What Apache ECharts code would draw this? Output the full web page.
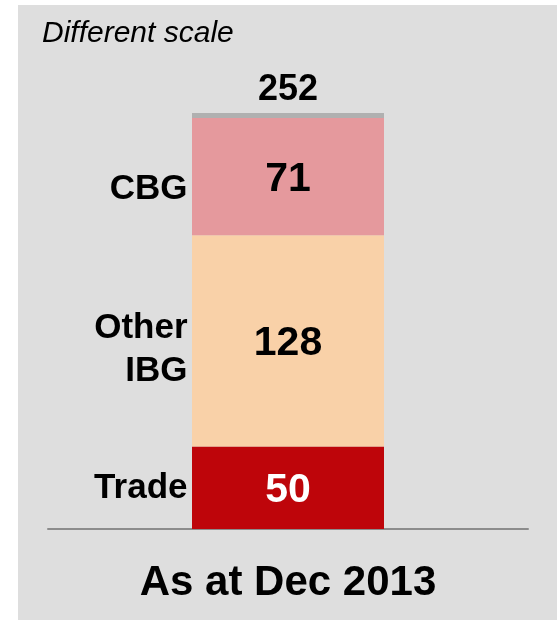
<!DOCTYPE html>
<html>
<head>
<meta charset="utf-8">
<script src="https://cdn.jsdelivr.net/npm/echarts@6/dist/echarts.min.js"></script>
<style>
  html, body { margin: 0; padding: 0; background: #ffffff; }
  #wrap { position: relative; width: 557px; height: 620px; background: #ffffff; overflow: hidden; }
  #panel { position: absolute; left: 18px; top: 5px; right: 0; bottom: 0; background: #dedede; }
  #chart { position: absolute; left: 0; top: 0; width: 557px; height: 620px; }
</style>
</head>
<body>
<div id="wrap"><div id="panel"></div><div id="chart"></div></div>
<script>
const categories = ['As at Dec 2013'];
const segmentNames = ['Trade', 'Other\nIBG', 'CBG'];
const tradeVals = [50];
const otherIbgVals = [128];
const cbgVals = [71];
const restVals = [3];
const totalVals = [252];
const noteText = 'Different scale';

const FONT = 'Arial, "Liberation Sans", sans-serif';
const segValues = [tradeVals, otherIbgVals, cbgVals];
const segColors = ['#BE050A', '#F9D1A8', '#E5999D'];
const valueColors = ['#ffffff', '#000000', '#000000'];
const nameOffsets = [[0, 1], [0, 9], [0, 13]];

const chart = echarts.init(document.getElementById('chart'), null, { renderer: 'canvas' });

const series = [];
let base = 0;
segValues.forEach((vals, i) => {
  const mid = base + vals[0] / 2;
  series.push({
    name: segmentNames[i],
    type: 'bar',
    stack: 'total',
    barWidth: 192,
    data: vals,
    itemStyle: { color: segColors[i] },
    label: {
      show: true,
      position: 'inside',
      offset: [0, 3],
      color: valueColors[i],
      fontFamily: FONT,
      fontWeight: 'bold',
      fontSize: 41
    },
    markPoint: {
      symbol: 'circle',
      symbolSize: 1,
      itemStyle: { color: 'transparent' },
      silent: true,
      data: [{ name: segmentNames[i], coord: [0, mid] }],
      label: {
        show: true,
        position: 'left',
        distance: 100,
        offset: nameOffsets[i],
        formatter: '{b}',
        align: 'right',
        color: '#000000',
        fontFamily: FONT,
        fontWeight: 'bold',
        fontSize: 35,
        lineHeight: 43
      }
    }
  });
  base += vals[0];
});
series.push({
  name: 'rest',
  type: 'bar',
  stack: 'total',
  barWidth: 192,
  data: restVals,
  itemStyle: { color: '#B0B0B0' },
  label: {
    show: true,
    position: 'top',
    distance: 5,
    formatter: (p) => String(totalVals[p.dataIndex]),
    color: '#000000',
    fontFamily: FONT,
    fontWeight: 'bold',
    fontSize: 36
  }
});

chart.setOption({
  animation: false,
  backgroundColor: 'transparent',
  title: {
    text: noteText,
    left: 42,
    top: 19,
    padding: 0,
    textStyle: {
      fontFamily: FONT,
      fontStyle: 'italic',
      fontWeight: 'normal',
      fontSize: 30,
      color: '#000000'
    }
  },
  grid: { left: 48, right: 29, top: 113, bottom: 91, containLabel: false },
  xAxis: {
    type: 'category',
    data: categories,
    axisLine: { show: true, lineStyle: { color: '#8c8c8c', width: 2 } },
    axisTick: { show: false },
    axisLabel: {
      margin: 33,
      color: '#000000',
      fontFamily: FONT,
      fontWeight: 'bold',
      fontSize: 42
    }
  },
  yAxis: {
    type: 'value',
    min: 0,
    max: totalVals[0],
    show: false,
    splitLine: { show: false }
  },
  series: series
});
</script>
</body>
</html>
